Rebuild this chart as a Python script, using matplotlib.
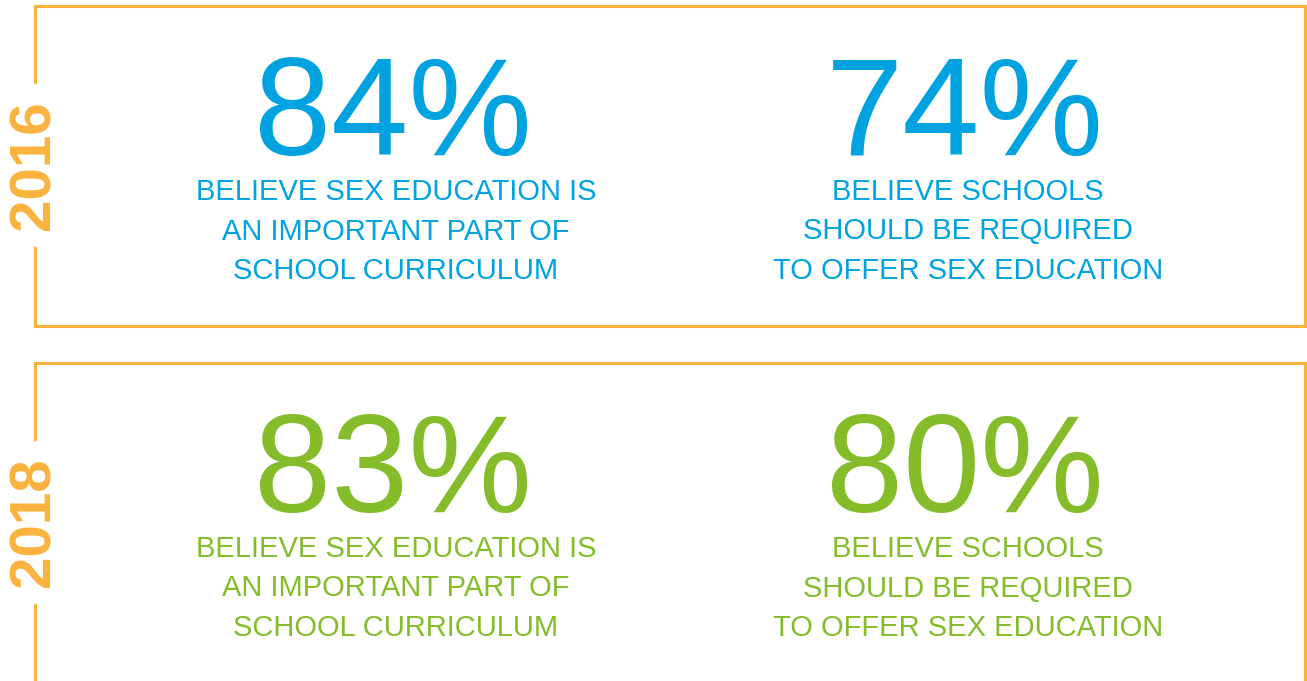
import matplotlib.pyplot as plt

# survey figures per year
years = ["2016", "2018"]
pct_important = [84, 83]
pct_required = [74, 80]
caption_important = ["BELIEVE SEX EDUCATION IS", "AN IMPORTANT PART OF", "SCHOOL CURRICULUM"]
caption_required = ["BELIEVE SCHOOLS", "SHOULD BE REQUIRED", "TO OFFER SEX EDUCATION"]

year_colors = ["#00a3e0", "#84bc2a"]
frame_color = "#fbb23d"
font = "Liberation Sans"

fig = plt.figure(figsize=(13.07, 6.81), dpi=100)
ax = fig.add_axes([0, 0, 1, 1])
ax.set_xlim(0, 1307)
ax.set_ylim(681, 0)
ax.axis("off")

col_x = [393, 965]
panel_step = 357

for i, year in enumerate(years):
    off = i * panel_step
    top = 6 + off
    bottom = 326 + off if i == 0 else 690
    lw = 2.2
    # frame with a gap on the left for the year label
    ax.plot([35, 35], [top, 82 + off], color=frame_color, lw=lw, solid_capstyle="projecting")
    ax.plot([35, 35], [248 + off, bottom], color=frame_color, lw=lw)
    ax.plot([35, 1305], [top, top], color=frame_color, lw=lw, solid_capstyle="projecting")
    ax.plot([1305, 1305], [top, bottom], color=frame_color, lw=lw, solid_capstyle="projecting")
    if i == 0:
        ax.plot([35, 1305], [bottom, bottom], color=frame_color, lw=lw, solid_capstyle="projecting")

    ax.text(34, 165 + off, year, rotation=90, ha="center", va="center",
            fontsize=42, fontweight="bold", color=frame_color, family=font)

    color = year_colors[i]
    for x, val, cap in zip(col_x, [pct_important[i], pct_required[i]],
                           [caption_important, caption_required]):
        ax.text(x, 155 + off, f"{val}%", ha="center", va="baseline",
                fontsize=100, color=color, family=font)
        for k, line in enumerate(cap):
            ax.text(x + 3, 200 + off + 39.5 * k, line, ha="center", va="baseline",
                    fontsize=21, color=color, family=font)

fig.savefig("out.png", dpi=100)
